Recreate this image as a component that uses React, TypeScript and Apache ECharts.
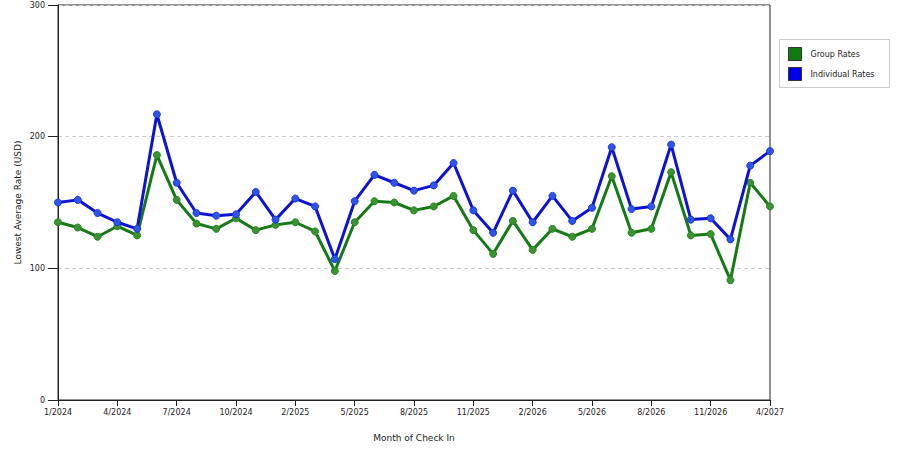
import React, { useEffect, useRef } from "react";
import * as echarts from "echarts";

const categories = [
  "1/2024", "2/2024", "3/2024", "4/2024", "5/2024", "6/2024", "7/2024", "8/2024", "9/2024",
  "10/2024", "11/2024", "12/2024", "2/2025", "3/2025", "4/2025", "5/2025", "6/2025", "7/2025",
  "8/2025", "9/2025", "10/2025", "11/2025", "12/2025", "1/2026", "2/2026", "3/2026", "4/2026",
  "5/2026", "6/2026", "7/2026", "8/2026", "9/2026", "10/2026", "11/2026", "1/2027", "3/2027", "4/2027",
];

const groupRates = [
  135, 131, 124, 132, 125, 186, 152, 134, 130, 138, 129, 133, 135, 128, 98, 135, 151, 150, 144,
  147, 155, 129, 111, 136, 114, 130, 124, 130, 170, 127, 130, 173, 125, 126, 91, 165, 147,
];

const individualRates = [
  150, 152, 142, 135, 130, 217, 165, 142, 140, 141, 158, 137, 153, 147, 107, 151, 171, 165, 159,
  163, 180, 144, 127, 159, 135, 155, 136, 146, 192, 145, 147, 194, 137, 138, 122, 178, 189,
];

const yTicks = { min: 0, max: 300, interval: 100 };

const FONT = "'DejaVu Sans', Verdana, sans-serif";

export default function App() {
  const ref = useRef<HTMLDivElement>(null);

  useEffect(() => {
    if (!ref.current) return;
    const chart = echarts.init(ref.current, undefined, { renderer: "svg" });
    chart.setOption({
      animation: false,
      backgroundColor: "#ffffff",
      textStyle: { fontFamily: FONT },
      grid: {
        left: 58,
        top: 5,
        width: 712,
        height: 395,
        show: true,
        borderColor: "#222",
        borderWidth: 1,
        backgroundColor: "transparent",
      },
      legend: {
        orient: "vertical",
        left: 783,
        top: 42,
        itemWidth: 13,
        itemHeight: 13,
        itemGap: 6,
        icon: "rect",
        textStyle: { fontSize: 8, color: "#222", fontFamily: FONT, padding: [0, 0, 0, 4] },
        data: [
          { name: "Group Rates", itemStyle: { color: "#0f7a0f", borderColor: "#333", borderWidth: 1 } },
          { name: "Individual Rates", itemStyle: { color: "#0000ee", borderColor: "#333", borderWidth: 1 } },
        ],
      },
      graphic: [
        {
          type: "rect",
          shape: { x: 779.5, y: 39.5, width: 110, height: 48 },
          style: { fill: "none", stroke: "#ccc", lineWidth: 1 },
          z: 0,
        },
      ],
      xAxis: {
        type: "category",
        data: categories,
        boundaryGap: false,
        name: "Month of Check In",
        nameLocation: "middle",
        nameGap: 33,
        nameTextStyle: { fontSize: 9, color: "#222", fontFamily: FONT },
        axisLine: { lineStyle: { color: "#222", width: 1 } },
        axisTick: { show: true, length: 6, interval: 2, lineStyle: { color: "#222" } },
        axisLabel: { interval: 2, fontSize: 8, color: "#222", margin: 8, fontFamily: FONT },
        splitLine: { show: false },
      },
      yAxis: {
        type: "value",
        min: yTicks.min,
        max: yTicks.max,
        interval: yTicks.interval,
        name: "Lowest Average Rate (USD)",
        nameLocation: "middle",
        nameGap: 36,
        nameMoveOverlap: false,
        nameTextStyle: { fontSize: 9, color: "#222", fontFamily: FONT },
        axisLine: { show: true, lineStyle: { color: "#222", width: 1 } },
        axisTick: { show: true, length: 10, lineStyle: { color: "#222" } },
        axisLabel: { fontSize: 8, color: "#222", margin: 13, fontFamily: FONT },
        splitLine: { show: true, lineStyle: { color: "#ccc", type: [4, 3], width: 1 } },
      },
      series: [
        {
          name: "Group Rates",
          type: "line",
          data: groupRates,
          color: "#0f7a0f",
          lineStyle: { color: "#157a15", width: 3 },
          symbol: "circle",
          symbolSize: 7,
          itemStyle: { color: "#3a9230", borderColor: "#268522", borderWidth: 1 },
          z: 3,
        },
        {
          name: "Individual Rates",
          type: "line",
          data: individualRates,
          color: "#0000ee",
          lineStyle: { color: "#0d12d4", width: 3 },
          symbol: "circle",
          symbolSize: 7,
          itemStyle: { color: "#2f55e8", borderColor: "#1a3ad8", borderWidth: 1 },
          z: 4,
        },
      ],
    });
    return () => chart.dispose();
  }, []);

  return (
    <div
      ref={ref}
      style={{ position: "fixed", left: 0, top: 0, width: 900, height: 450 }}
    />
  );
}
